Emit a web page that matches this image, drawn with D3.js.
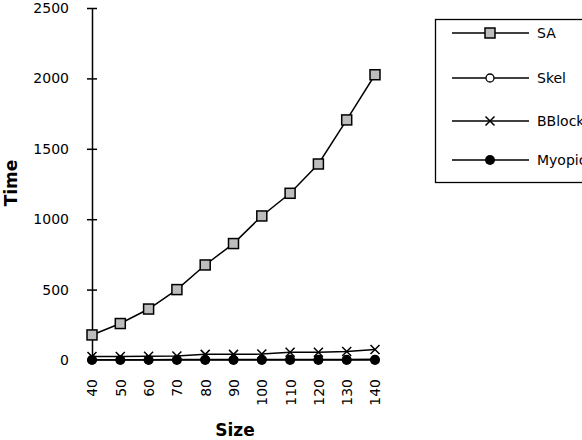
<!DOCTYPE html>
<html>
<head>
<meta charset="utf-8">
<script src="https://cdn.jsdelivr.net/npm/d3@7"></script>
<style>
  body { margin: 0; background: #fff; }
  svg { font-family: "DejaVu Sans", sans-serif; }
</style>
</head>
<body>
<div id="chart"></div>
<script>
(function () {
  const sizes = [40, 50, 60, 70, 80, 90, 100, 110, 120, 130, 140];
  const saTimes = [178, 259, 362, 500, 675, 827, 1023, 1184, 1392, 1705, 2026];
  const skelTimes = [2, 2, 2, 3, 3, 3, 3, 4, 4, 4, 5];
  const bblockTimes = [25, 25, 27, 28, 40, 40, 42, 55, 55, 60, 75];
  const myopicTimes = [0, 0, 0, 0, 0, 0, 0, 0, 0, 0, 0];
  const seriesNames = ["SA", "Skel", "BBlock", "Myopic"];
  const yTicks = [0, 500, 1000, 1500, 2000, 2500];

  const series = [
    { name: seriesNames[0], values: saTimes, marker: "square" },
    { name: seriesNames[1], values: skelTimes, marker: "circle" },
    { name: seriesNames[2], values: bblockTimes, marker: "cross" },
    { name: seriesNames[3], values: myopicTimes, marker: "dot" }
  ];

  const svg = d3.select("#chart").append("svg")
    .attr("width", 582)
    .attr("height", 440);

  const x = d3.scaleLinear().domain([40, 140]).range([92, 375]);
  const y = d3.scaleLinear().domain([0, 2500]).range([360, 8]);

  // y axis, ticks cross the line
  const yAxis = svg.append("g")
    .attr("transform", "translate(92,0)")
    .call(d3.axisLeft(y).tickValues(yTicks).tickFormat(d3.format("d"))
      .tickSize(5).tickSizeOuter(0).tickPadding(18));
  yAxis.select(".domain").attr("stroke-width", 1.5);
  yAxis.selectAll(".tick line").attr("x2", 5).attr("x1", -5).attr("stroke-width", 1.5);
  yAxis.selectAll(".tick text").attr("font-size", 14).attr("fill", "#000")
    .attr("font-family", "DejaVu Sans");

  // x tick labels only, rotated
  const xAxis = svg.append("g")
    .attr("transform", "translate(0,360)")
    .call(d3.axisBottom(x).tickValues(sizes).tickSize(0));
  xAxis.select(".domain").remove();
  xAxis.selectAll(".tick text")
    .attr("font-size", 14).attr("fill", "#000").attr("font-family", "DejaVu Sans")
    .attr("transform", "rotate(-90)")
    .attr("text-anchor", "end")
    .attr("x", -19).attr("y", 0).attr("dy", "0.35em");

  // axis titles
  svg.append("text")
    .attr("x", 235).attr("y", 436)
    .attr("text-anchor", "middle")
    .attr("font-size", 17).attr("font-weight", "bold")
    .text("Size");
  svg.append("text")
    .attr("transform", "translate(17,183) rotate(-90)")
    .attr("text-anchor", "middle")
    .attr("font-size", 17).attr("font-weight", "bold")
    .text("Time");

  const line = d3.line()
    .x((d, i) => x(sizes[i]))
    .y(d => y(d));

  function drawMarker(g, type) {
    if (type === "square") {
      g.append("rect").attr("x", -5).attr("y", -5).attr("width", 10).attr("height", 10)
        .attr("fill", "#bdbdbd").attr("stroke", "#000").attr("stroke-width", 1.5);
    } else if (type === "circle") {
      g.append("circle").attr("r", 4).attr("fill", "#fff")
        .attr("stroke", "#000").attr("stroke-width", 1.3);
    } else if (type === "cross") {
      g.append("path").attr("d", "M-4.5,-4.5L4.5,4.5M-4.5,4.5L4.5,-4.5")
        .attr("stroke", "#000").attr("stroke-width", 1.5);
    } else {
      g.append("circle").attr("r", 5).attr("fill", "#000");
    }
  }

  // draw bottom series first so SA sits on top
  series.slice().reverse().forEach(s => {
    svg.append("path")
      .datum(s.values)
      .attr("fill", "none")
      .attr("stroke", "#000")
      .attr("stroke-width", 1.5)
      .attr("d", line);
  });
  [series[2], series[1], series[3], series[0]].forEach(s => {
    s.values.forEach((v, i) => {
      const g = svg.append("g").attr("transform", `translate(${x(sizes[i])},${y(v)})`);
      drawMarker(g, s.marker);
    });
  });

  // legend (clipped at the right edge like the original)
  const legend = svg.append("g");
  legend.append("rect")
    .attr("x", 435.5).attr("y", 19.5).attr("width", 160).attr("height", 163)
    .attr("fill", "#fff").attr("stroke", "#000").attr("stroke-width", 1.3);
  const legendY = [33, 78, 121, 160];
  series.forEach((s, i) => {
    const ly = legendY[i];
    legend.append("line").attr("x1", 452).attr("x2", 529).attr("y1", ly).attr("y2", ly)
      .attr("stroke", "#000").attr("stroke-width", 1.3);
    const g = legend.append("g").attr("transform", `translate(490,${ly})`);
    drawMarker(g, s.marker);
    legend.append("text")
      .attr("x", 537).attr("y", ly).attr("dy", "0.35em")
      .attr("font-size", 14)
      .text(s.name);
  });
})();
</script>
</body>
</html>
